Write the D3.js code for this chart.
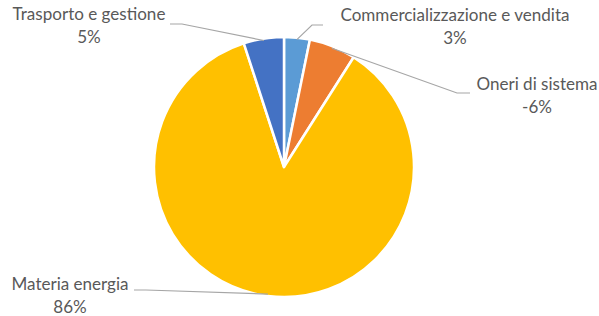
<!DOCTYPE html>
<html><head><meta charset="utf-8">
<script src="https://cdn.jsdelivr.net/npm/d3@7"></script>
<style>body{margin:0;background:#fff}svg{display:block}</style>
</head><body>
<svg id="c" width="599" height="316"></svg>
<script>
const categories = ["Commercializzazione e vendita", "Oneri di sistema", "Materia energia", "Trasporto e gestione"];
const values = [3.2, -5.8, 86.0, 5.0];
const percentLabels = ["3%", "-6%", "86%", "5%"];
const colors = ["#5B9BD5", "#ED7D31", "#FFC000", "#4472C4"];

const svg = d3.select("#c");
const cx = 284, cy = 167, r = 130;
const g = svg.append("g").attr("transform", `translate(${cx},${cy})`);
const pie = d3.pie().sort(null).value(d => Math.abs(d));
const arcs = pie(values);
const arc = d3.arc().innerRadius(0).outerRadius(r);
g.selectAll("path").data(arcs).join("path")
  .attr("d", arc).attr("fill", (d, i) => colors[i])
  .attr("stroke", "#fff").attr("stroke-width", 2.5).attr("stroke-linejoin", "round");

const fontFam = "Lato, 'Open Sans', sans-serif";
// fit font size so that the longest left label matches the reference width
const probe = svg.append("text").attr("font-family", fontFam).attr("font-size", 20).text("Trasporto e gestione");
const fs = 20 * 153 / probe.node().getComputedTextLength();
probe.remove();

const labelPos = [
  {x: 455, y: 21, lead: [[323, 25], [312, 25]]},
  {x: 537, y: 90, lead: [[470, 93], [457, 93]]},
  {x: 70, y: 289.5, lead: [[134, 290], [146, 290]]},
  {x: 89, y: 19.5, lead: [[170, 24], [182, 24]]}
];
const edge = d3.arc().innerRadius(r * 0.985).outerRadius(r * 0.985);
arcs.forEach((a, i) => {
  const lp = labelPos[i];
  const c = edge.centroid(a);
  const end = [cx + c[0], cy + c[1]];
  const pts = lp.lead.concat([end]);
  svg.append("path").attr("d", d3.line()(pts)).attr("fill", "none")
    .attr("stroke", "#A6A6A6").attr("stroke-width", 1.2);
  const t = svg.append("text").attr("text-anchor", "middle")
    .attr("font-family", fontFam).attr("font-size", fs)
    .attr("fill", "#595959");
  t.append("tspan").attr("x", lp.x).attr("y", lp.y).text(categories[i]);
  t.append("tspan").attr("x", lp.x).attr("y", lp.y + 23).text(percentLabels[i]);
});
</script>
</body></html>
